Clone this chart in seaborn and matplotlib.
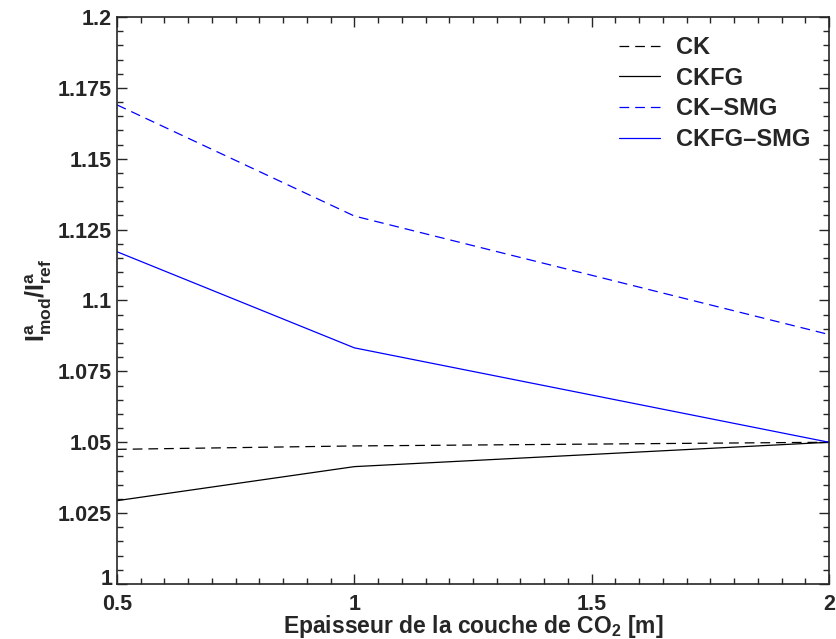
import numpy as np
import pandas as pd
import matplotlib
matplotlib.use("Agg")
import matplotlib.pyplot as plt
import matplotlib.transforms as mtransforms
from matplotlib.ticker import MultipleLocator, FixedLocator
import seaborn as sns

# Data
thickness = [0.5, 1.0, 2.0]
ck = [1.0475, 1.0487, 1.0500]
ckfg = [1.0294, 1.0414, 1.0500]
ck_smg = [1.1690, 1.1298, 1.0880]
ckfg_smg = [1.1172, 1.0833, 1.0500]
series_names = ["CK", "CKFG", "CK\u2013SMG", "CKFG\u2013SMG"]
x_ticks = [0.5, 1, 1.5, 2]
x_tick_labels = ["0.5", "1", "1.5", "2"]
y_ticks = [1, 1.025, 1.05, 1.075, 1.1, 1.125, 1.15, 1.175, 1.2]
y_tick_labels = ["1", "1.025", "1.05", "1.075", "1.1", "1.125", "1.15", "1.175", "1.2"]

sns.set_style("ticks")
plt.rcParams["font.family"] = ["Liberation Sans", "DejaVu Sans"]
plt.rcParams["font.weight"] = "bold"
plt.rcParams["mathtext.fontset"] = "custom"
plt.rcParams["mathtext.rm"] = "Liberation Sans:bold"
plt.rcParams["mathtext.bf"] = "Liberation Sans:bold"
plt.rcParams["mathtext.it"] = "Liberation Sans:bold"
plt.rcParams["lines.scale_dashes"] = False

df = pd.DataFrame({
    "x": thickness * 4,
    "y": ck + ckfg + ck_smg + ckfg_smg,
    "serie": sum([[n] * len(thickness) for n in series_names], []),
})

fig = plt.figure(figsize=(8.36, 6.39), dpi=100)
ax = fig.add_axes([117 / 836, 1 - 584 / 639, (829 - 117) / 836, (584 - 17) / 639])

dash = (0, (7.0, 4.3))
styles = {
    series_names[0]: ("black", dash),
    series_names[1]: ("black", "-"),
    series_names[2]: ("#0000ff", dash),
    series_names[3]: ("#0000ff", "-"),
}
for name in series_names:
    sub = df[df["serie"] == name]
    c, ls = styles[name]
    sns.lineplot(data=sub, x="x", y="y", ax=ax, color=c, linestyle=ls,
                 linewidth=0.9, label=name, sort=False, estimator=None)

ax.set_xlim(0.5, 2)
ax.set_ylim(1, 1.2)
ax.xaxis.set_major_locator(FixedLocator(x_ticks))
ax.set_xticklabels(x_tick_labels)
ax.yaxis.set_major_locator(FixedLocator(y_ticks))
ax.set_yticklabels(y_tick_labels)
ax.xaxis.set_minor_locator(MultipleLocator(0.05))
ax.yaxis.set_minor_locator(MultipleLocator(0.005))
ax.tick_params(which="both", direction="in", top=True, right=True, width=1.0)
ax.tick_params(which="major", length=7, labelsize=15.5)
ax.tick_params(axis="y", which="major", pad=3.5)
ax.tick_params(axis="x", which="major", pad=7)
ax.tick_params(which="minor", length=4)
for lab in ax.get_xticklabels() + ax.get_yticklabels():
    lab.set_fontweight("bold")
for sp in ax.spines.values():
    sp.set_linewidth(1.2)
    sp.set_visible(True)

# nudge the lowest y tick label up a little so it does not collide with "0.5"
first_y = ax.get_yticklabels()[0]
first_y.set_transform(first_y.get_transform() +
                      mtransforms.ScaledTranslation(0, 5 / 72, fig.dpi_scale_trans))

ax.set_xlabel("Epaisseur de la couche de CO$_2$ [m]", fontsize=16.5, fontweight="bold", labelpad=-1.5)
ax.set_ylabel(r"$\mathbf{I^a_{mod}/I^a_{ref}}$", fontsize=18, labelpad=3)

leg = ax.legend(loc="upper right", frameon=False, fontsize=17, handlelength=1.75,
                handletextpad=0.65, labelspacing=0.33, borderaxespad=0.4)
for t in leg.get_texts():
    t.set_fontweight("bold")

fig.savefig("out.png", dpi=100)
